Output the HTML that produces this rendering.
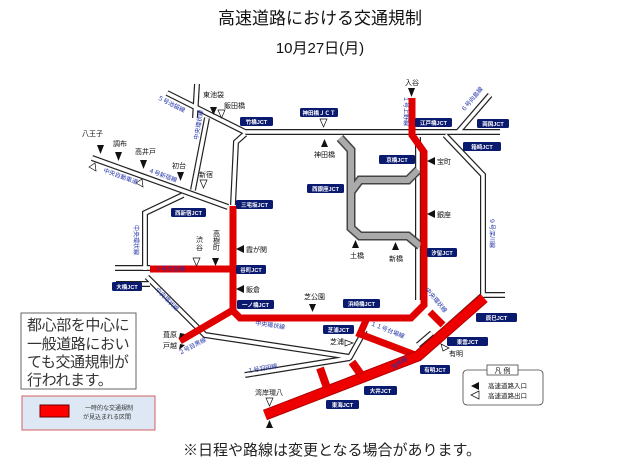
<!DOCTYPE html>
<html><head><meta charset="utf-8"><style>
body{margin:0;background:#fff}
svg{display:block;font-family:"Liberation Sans","Noto Sans CJK JP",sans-serif}
.w1{fill:none;stroke:#222;stroke-width:6;stroke-linejoin:miter}
.w2{fill:none;stroke:#fff;stroke-width:3.6}
.g1{fill:none;stroke:#444;stroke-width:9}
.g2{fill:none;stroke:#aaa;stroke-width:6}
.r{fill:none;stroke:#e00000;stroke-width:7;stroke-linejoin:miter}
.rb{fill:none;stroke:#b00000;stroke-width:11}
.rb2{fill:none;stroke:#ee0000;stroke-width:9}
.j{fill:#0a1a6e}
.jt{fill:#fff;font-size:5.5px;font-weight:bold}
.t{font-size:7px;fill:#111}
.b{font-size:6px;fill:#2233aa}
</style></head><body>
<svg width="640" height="468" viewBox="0 0 640 468">
<text x="320" y="24" font-size="17" text-anchor="middle" fill="#111">高速道路における交通規制</text>
<text x="320" y="53" font-size="15" text-anchor="middle" fill="#111">10月27日(月)</text>

<g id="roads">
<g class="w1">
<path d="M167,93 L245,132 L500,132"/>
<path d="M197,84 L195,118"/>
<path d="M207,118 L193,190"/>
<path d="M92,158 L228,207"/>
<path d="M183,195 L145,213 L145,270"/>
<path d="M115,268 L150,268"/>
<path d="M116,284 L150,284"/>
<path d="M245,134 L236,142 L233,205"/>
<path d="M445,135 L483,175 L483,295"/>
<path d="M458,132 L490,95"/>
<path d="M147,277 L205,335 L350,357 L365,330"/>
<path d="M350,358 L245,375"/>
<path d="M418,353 L483,295 L505,295"/>
<path d="M418,345 L432,333"/>
<path d="M418,137 L418,300"/>
</g>
<g class="w2">
<path d="M167,93 L245,132 L500,132"/>
<path d="M197,84 L195,118"/>
<path d="M207,118 L193,190"/>
<path d="M92,158 L228,207"/>
<path d="M183,195 L145,213 L145,270"/>
<path d="M115,268 L150,268"/>
<path d="M116,284 L150,284"/>
<path d="M245,134 L236,142 L233,205"/>
<path d="M445,135 L483,175 L483,295"/>
<path d="M458,132 L490,95"/>
<path d="M147,277 L205,335 L350,357 L365,330"/>
<path d="M350,358 L245,375"/>
<path d="M418,353 L483,295 L505,295"/>
<path d="M418,345 L432,333"/>
<path d="M418,137 L418,300"/>
</g>
<path class="g1" d="M340,138 L351,150 L351,228 L360,236 L408,236 L420,246"/>
<path class="g1" d="M351,192 L360,180 L408,180 L418,170"/>
<path class="g2" d="M340,138 L351,150 L351,228 L360,236 L408,236 L420,246"/>
<path class="g2" d="M351,192 L360,180 L408,180 L418,170"/>

<path class="r" d="M412,98 L412,135 L424,152 L424,305 L411,318 L240,318 L233,311 L233,206"/>
<path class="r" d="M150,269 L233,269"/>
<path class="r" d="M233,310 L180,341"/>
<path class="r" d="M367,318 L360,334 L418,356"/>
<path class="r" d="M430,312 L443,325"/>
<path class="rb" d="M265,415 L418,356 L484,298"/>
<path class="rb2" d="M265,415 L418,356 L484,298"/>
<path class="r" style="stroke-width:8" d="M320,368 L327,388"/>
<path class="r" style="stroke-width:8" d="M352,362 L362,376"/>
</g>

<g>
<rect class="j" x="240" y="117" width="33" height="9" rx="1.5"/><text class="jt" x="256.5" y="123.8" text-anchor="middle">竹橋JCT</text>
<rect class="j" x="300" y="108" width="38" height="9" rx="1.5"/><text class="jt" x="319" y="114.8" text-anchor="middle">神田橋ＪＣＴ</text>
<rect class="j" x="415" y="118" width="37" height="9" rx="1.5"/><text class="jt" x="433.5" y="124.8" text-anchor="middle">江戸橋JCT</text>
<rect class="j" x="477" y="119" width="32" height="9" rx="1.5"/><text class="jt" x="493" y="125.8" text-anchor="middle">両国JCT</text>
<rect class="j" x="463" y="142" width="38" height="9" rx="1.5"/><text class="jt" x="482" y="148.8" text-anchor="middle">箱崎JCT</text>
<rect class="j" x="379" y="155" width="36" height="9" rx="1.5"/><text class="jt" x="397" y="161.8" text-anchor="middle">京橋JCT</text>
<rect class="j" x="307" y="184" width="37" height="9" rx="1.5"/><text class="jt" x="325.5" y="190.8" text-anchor="middle">西銀座JCT</text>
<rect class="j" x="427" y="248" width="30" height="9" rx="1.5"/><text class="jt" x="442" y="254.8" text-anchor="middle">汐留JCT</text>
<rect class="j" x="236" y="200" width="37" height="9" rx="1.5"/><text class="jt" x="254.5" y="206.8" text-anchor="middle">三宅坂JCT</text>
<rect class="j" x="171" y="208" width="35" height="9" rx="1.5"/><text class="jt" x="188.5" y="214.8" text-anchor="middle">西新宿JCT</text>
<rect class="j" x="236" y="265" width="30" height="9" rx="1.5"/><text class="jt" x="251" y="271.8" text-anchor="middle">谷町JCT</text>
<rect class="j" x="112" y="282" width="30" height="9" rx="1.5"/><text class="jt" x="127" y="288.8" text-anchor="middle">大橋JCT</text>
<rect class="j" x="237" y="300" width="37" height="9" rx="1.5"/><text class="jt" x="255.5" y="306.8" text-anchor="middle">一ノ橋JCT</text>
<rect class="j" x="343" y="299" width="37" height="9" rx="1.5"/><text class="jt" x="361.5" y="305.8" text-anchor="middle">浜崎橋JCT</text>
<rect class="j" x="323" y="325" width="31" height="9" rx="1.5"/><text class="jt" x="338.5" y="331.8" text-anchor="middle">芝浦JCT</text>
<rect class="j" x="476" y="313" width="41" height="9" rx="1.5"/><text class="jt" x="496.5" y="319.8" text-anchor="middle">辰巳JCT</text>
<rect class="j" x="447" y="337" width="41" height="9" rx="1.5"/><text class="jt" x="467.5" y="343.8" text-anchor="middle">東雲JCT</text>
<rect class="j" x="420" y="365" width="30" height="9" rx="1.5"/><text class="jt" x="435" y="371.8" text-anchor="middle">有明JCT</text>
<rect class="j" x="364" y="386" width="33" height="9" rx="1.5"/><text class="jt" x="380.5" y="392.8" text-anchor="middle">大井JCT</text>
<rect class="j" x="326" y="400" width="33" height="9" rx="1.5"/><text class="jt" x="342.5" y="406.8" text-anchor="middle">東海JCT</text>
</g>

<g fill="#111">
<path d="M210,107 l7,0 l-3.5,8z"/><path d="M218,110 l7,0 l-3.5,8z" fill="#fff" stroke="#111" stroke-width=".7"/>
<path d="M97,145 l7,0 l-3.5,9z"/><path d="M115,152 l7,0 l-3.5,9z"/><path d="M140,160 l7,0 l-3.5,9z"/><path d="M177,172 l7,0 l-3.5,9z"/>
<path d="M200,180 l7,0 l-3.5,8z" fill="#fff" stroke="#111" stroke-width=".7"/>
<path d="M89,167 l6,-4 l1,8z" fill="#fff" stroke="#111" stroke-width=".7"/>
<path d="M136,183 l6,-4 l1,8z" fill="#fff" stroke="#111" stroke-width=".7"/>
<path d="M193,258 l7,0 l-3.5,8z" fill="#fff" stroke="#111" stroke-width=".7"/>
<path d="M212,258 l7,0 l-3.5,8z"/>
<path d="M236,249 l8,-4 l0,8z"/><path d="M236,289 l8,-4 l0,8z"/>
<path d="M320,119 l7,0 l-3.5,8z" fill="#fff" stroke="#111" stroke-width=".7"/>
<path d="M321,147 l7,0 l-3.5,-8z"/>
<path d="M352,248 l7,0 l-3.5,-8z"/><path d="M392,250 l7,0 l-3.5,-8z"/>
<path d="M427,161 l8,-4 l0,8z"/><path d="M427,214 l8,-4 l0,8z"/>
<path d="M408,88 l7,0 l-3.5,9z"/>
<path d="M309,304 l7,0 l-3.5,8z"/>
<path d="M345,340 l8,3 l-8,3z" fill="#fff" stroke="#111" stroke-width=".7"/>
<path d="M441,344 l8,4 l-6,3z" fill="#fff" stroke="#111" stroke-width=".7"/>
<path d="M266,398 l7,0 l-3.5,8z" fill="#fff" stroke="#111" stroke-width=".7"/>
<path d="M266,428 l7,0 l-3.5,-8z"/>
<path d="M180,333 l-1,6 l6,-5z"/><path d="M180,344 l-1,6 l6,-5z"/>
</g>

<g class="t">
<text x="203" y="97">東池袋</text><text x="224" y="108">飯田橋</text>
<text x="82" y="136">八王子</text><text x="113" y="146">調布</text><text x="135" y="154">高井戸</text>
<text x="172" y="168">初台</text><text x="199" y="177">新宿</text>
<text x="196" y="242">渋</text><text x="196" y="250">谷</text>
<text x="213" y="236">高</text><text x="213" y="243">樹</text><text x="213" y="250">町</text>
<text x="246" y="252">霞が関</text><text x="246" y="292">飯倉</text>
<text x="304" y="299">芝公園</text><text x="314" y="157">神田橋</text>
<text x="350" y="258">土橋</text><text x="389" y="261">新橋</text>
<text x="437" y="164">宝町</text><text x="437" y="217">銀座</text><text x="405" y="85">入谷</text>
<text x="330" y="344">芝浦</text><text x="449" y="356">有明</text>
<text x="255" y="395">湾岸環八</text>
<text x="163" y="337">葺原</text><text x="163" y="348">戸越</text>
</g>
<g class="b">
<text x="155" y="271">３号渋谷線</text>
<text transform="translate(157,99) rotate(27)">５号池袋線</text>
<text transform="translate(198,140) rotate(-80)">中央環状線</text>
<text transform="translate(148,172) rotate(20)">４号新宿線</text>
<text transform="translate(103,172) rotate(20)">中央自動車道</text>
<text transform="translate(134,225) rotate(90)">中央環状線</text>
<text transform="translate(155,290) rotate(45)">中央環状線</text>
<text transform="translate(255,325) rotate(8)">中央環状線</text>
<text transform="translate(180,355) rotate(-28)">２号目黒線</text>
<text transform="translate(248,373) rotate(-10)">１号羽田線</text>
<text transform="translate(370,325) rotate(22)">１１号台場線</text>
<text transform="translate(425,290) rotate(50)">中央環状線</text>
<text transform="translate(393,370) rotate(-35)">湾岸線</text>
<text transform="translate(490,218) rotate(90)">９号深川線</text>
<text transform="translate(464,112) rotate(-50)">６号向島線</text>
<text transform="translate(404,96) rotate(90)">１号上野線</text>
</g>

<rect x="21" y="313" width="115" height="76" fill="#fff" stroke="#666" stroke-width="1"/>
<g font-size="15" fill="#333" letter-spacing="-0.4">
<text x="27" y="330">都心部を中心に</text>
<text x="27" y="349">一般道路におい</text>
<text x="27" y="367">ても交通規制が</text>
<text x="27" y="385">行われます。</text>
</g>
<rect x="22" y="396" width="133" height="34" fill="#dde8f4" stroke="#d06060"/>
<rect x="40" y="405" width="29" height="12" fill="#f00" stroke="#600"/>
<text x="85" y="410" font-size="6" fill="#333">一時的な交通規制</text>
<text x="83" y="419" font-size="6" fill="#333">が見込まれる区間</text>

<rect x="463" y="370" width="80" height="35" rx="4" fill="#fff" stroke="#444" stroke-width=".8"/>
<rect x="487" y="365" width="31" height="10" fill="#fff" stroke="#444" stroke-width=".8"/>
<text x="502.5" y="373" font-size="7" text-anchor="middle" fill="#111">凡 例</text>
<path d="M471,386 l8,-4 l0,8z" fill="#111"/>
<path d="M471,395 l8,-4 l0,8z" fill="#fff" stroke="#111" stroke-width=".7"/>
<text x="488" y="388" font-size="6.5" fill="#111">高速道路入口</text>
<text x="488" y="398" font-size="6.5" fill="#111">高速道路出口</text>

<text x="332" y="455" font-size="15" text-anchor="middle" fill="#222">※日程や路線は変更となる場合があります。</text>
</svg>
</body></html>
